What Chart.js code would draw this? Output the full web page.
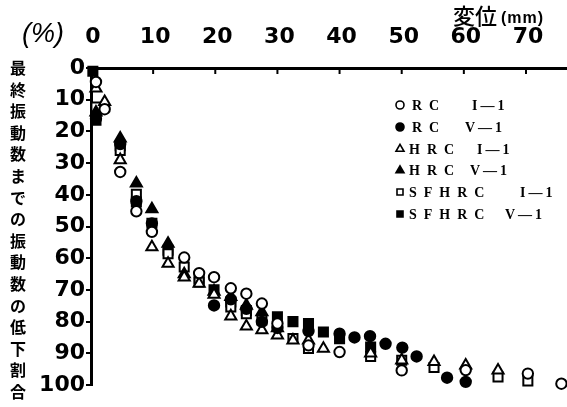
<!DOCTYPE html>
<html>
<head>
<meta charset="utf-8">
<script src="https://cdn.jsdelivr.net/npm/chart.js@4/dist/chart.umd.min.js"></script>
<style>
html, body { margin: 0; padding: 0; background: #fff; }
#wrap { width: 567px; height: 407px; }
</style>
</head>
<body>
<div id="wrap"><canvas id="chart" width="567" height="407"></canvas></div>
<script>
'use strict';

// Tick labels
const xTicks = [0, 10, 20, 30, 40, 50, 60, 70];
const yTicks = [0, 10, 20, 30, 40, 50, 60, 70, 80, 90, 100];

// Legend text
const seriesNames = ['RC', 'RC', 'HRC', 'HRC', 'SFHRC', 'SFHRC'];
const seriesCases = ['I—1', 'V—1', 'I—1', 'V—1', 'I—1', 'V—1'];

// Series values: displacement (mm) / reduction (%)
const rcI_x = [0.8, 2.2, 4.7, 7.3, 9.8, 15.0, 17.4, 19.8, 22.5, 25.0, 27.5, 30.0, 35.0, 40.0, 50.0, 60.3, 70.3, 75.7];
const rcI_y = [4.4, 13.0, 32.8, 45.2, 51.7, 59.8, 64.7, 66.0, 69.5, 71.2, 74.3, 80.6, 87.5, 89.6, 95.4, 95.3, 96.4, 99.6];

const rcV_x = [0.8, 4.7, 7.3, 9.8, 19.8, 22.5, 25.0, 27.5, 30.0, 35.0, 40.0, 42.4, 44.9, 47.4, 50.1, 52.4, 57.3, 60.3];
const rcV_y = [16.0, 24.0, 42.0, 49.0, 74.9, 73.0, 76.0, 80.1, 82.0, 83.0, 83.8, 85.0, 84.6, 87.0, 88.2, 91.0, 97.7, 99.0];

const hrcI_x = [0.8, 2.2, 4.7, 9.8, 12.4, 15.0, 17.4, 19.8, 22.5, 25.0, 27.5, 30.0, 32.5, 35.0, 37.4, 45.0, 50.0, 55.2, 60.3, 65.5];
const hrcI_y = [6.4, 10.7, 29.0, 56.5, 61.7, 66.0, 68.0, 71.5, 78.3, 81.5, 82.7, 84.3, 85.9, 85.9, 88.5, 90.0, 92.2, 92.7, 93.8, 95.4];

const hrcV_x = [0.8, 4.7, 7.3, 9.8, 12.4, 15.0, 19.8, 22.5, 25.0, 27.5, 30.0];
const hrcV_y = [14.0, 22.2, 36.4, 44.5, 55.4, 65.0, 70.5, 72.2, 74.9, 77.0, 82.0];

const sfI_x = [0.8, 4.7, 7.3, 12.4, 15.0, 17.4, 22.5, 25.0, 27.5, 32.5, 35.0, 45.0, 50.0, 55.2, 65.5, 70.3];
const sfI_y = [12.3, 26.0, 39.8, 58.6, 62.8, 67.5, 75.4, 77.5, 79.5, 85.3, 88.5, 91.0, 92.2, 94.5, 97.5, 98.7];

const sfV_x = [0.3, 0.8, 4.7, 7.3, 9.8, 12.4, 17.4, 19.8, 22.5, 25.0, 30.0, 32.5, 35.0, 37.4, 40.0, 45.0];
const sfV_y = [1.0, 16.5, 24.5, 42.3, 49.0, 57.5, 66.5, 70.0, 73.8, 76.5, 78.5, 80.0, 80.6, 83.3, 85.4, 88.0];

const toPoints = (xs, ys) => xs.map((x, i) => ({ x: x, y: ys[i] }));

// Marker styles per series
const markers = [
    { style: 'circle',   fill: '#fff', radius: 5.2 },
    { style: 'circle',   fill: '#000', radius: 5.2 },
    { style: 'triangle', fill: '#fff', radius: 6.4 },
    { style: 'triangle', fill: '#000', radius: 6.4 },
    { style: 'rect',     fill: '#fff', radius: 6.4 },
    { style: 'rect',     fill: '#000', radius: 6.4 }
];

const seriesData = [
    toPoints(rcI_x, rcI_y),
    toPoints(rcV_x, rcV_y),
    toPoints(hrcI_x, hrcI_y),
    toPoints(hrcV_x, hrcV_y),
    toPoints(sfI_x, sfI_y),
    toPoints(sfV_x, sfV_y)
];

const datasets = seriesData.map((pts, i) => ({
    label: seriesNames[i] + ' ' + seriesCases[i],
    data: pts,
    pointStyle: markers[i].style,
    pointRadius: markers[i].radius,
    pointBackgroundColor: markers[i].fill,
    pointBorderColor: '#000',
    pointBorderWidth: 2,
    showLine: false,
    clip: false
}));

const TICK_FONT = { family: 'DejaVu Sans', size: 22, weight: 'bold' };

// Draws a marker by hand (legend)
function drawMarker(ctx, style, fill, x, y, r) {
    ctx.save();
    ctx.beginPath();
    if (style === 'circle') {
        ctx.arc(x, y, r, 0, Math.PI * 2);
    } else if (style === 'triangle') {
        ctx.moveTo(x, y - r);
        ctx.lineTo(x + r * 0.866, y + r * 0.5);
        ctx.lineTo(x - r * 0.866, y + r * 0.5);
        ctx.closePath();
    } else {
        const s = r * 0.75;
        ctx.rect(x - s, y - s, 2 * s, 2 * s);
    }
    ctx.fillStyle = fill;
    ctx.fill();
    ctx.lineWidth = 1.6;
    ctx.strokeStyle = '#000';
    ctx.stroke();
    ctx.restore();
}

// Texts, inward x ticks and legend
const decorations = {
    id: 'decorations',
    afterDraw(chart) {
        const ctx = chart.ctx;
        const xs = chart.scales.x;
        const area = chart.chartArea;

        ctx.save();
        // inward ticks on top axis
        ctx.strokeStyle = '#000';
        ctx.lineWidth = 2;
        xTicks.forEach(v => {
            if (v === 0) return;
            const px = xs.getPixelForValue(v);
            ctx.beginPath();
            ctx.moveTo(px, area.top);
            ctx.lineTo(px, area.top + 6);
            ctx.stroke();
        });

        ctx.fillStyle = '#000';
        ctx.textBaseline = 'middle';

        // (%)
        ctx.textAlign = 'center';
        ctx.font = 'italic 27px "Liberation Sans"';
        ctx.fillText('(%)', 43, 34);

        // 変位 (mm)
        ctx.textAlign = 'left';
        ctx.font = '500 22px "Noto Sans CJK JP"';
        ctx.fillText('変位', 453, 16);
        ctx.font = 'bold 16px "Liberation Sans"';
        ctx.letterSpacing = '1px';
        ctx.fillText('(mm)', 501, 19);
        ctx.letterSpacing = '0px';

        // vertical y-axis title
        const yTitle = '最終振動数までの振動数の低下割合';
        ctx.textAlign = 'center';
        ctx.font = 'bold 16px "Noto Sans CJK JP"';
        Array.from(yTitle).forEach((ch, i) => {
            ctx.fillText(ch, 18, 68 + i * 21.6);
        });

        // legend
        const rowY = [105, 127, 149, 170.5, 192, 214];
        const nameX = [412, 412, 409, 409, 409, 409];
        const caseX = [472, 465, 477, 470, 520, 505];
        ctx.textAlign = 'left';
        ctx.font = 'bold 14px "Liberation Serif"';
        seriesNames.forEach((name, i) => {
            const m = markers[i];
            drawMarker(ctx, m.style, m.fill, 400, rowY[i], m.style === 'triangle' ? 4.6 : 4);
            ctx.fillStyle = '#000';
            ctx.letterSpacing = '7px';
            ctx.fillText(name, nameX[i], rowY[i] + 1);
            ctx.letterSpacing = '3px';
            ctx.fillText(seriesCases[i], caseX[i], rowY[i] + 1);
        });
        ctx.letterSpacing = '0px';
        ctx.restore();
    }
};

new Chart(document.getElementById('chart'), {
    type: 'scatter',
    data: { datasets: datasets },
    plugins: [decorations],
    options: {
        responsive: false,
        animation: false,
        devicePixelRatio: 1,
        layout: {
            autoPadding: false,
            padding: { left: 0, top: 0, right: 0, bottom: 22 }
        },
        plugins: {
            legend: { display: false },
            tooltip: { enabled: false }
        },
        scales: {
            x: {
                type: 'linear',
                position: 'top',
                min: 0,
                max: 76.6,
                afterBuildTicks: (scale) => { scale.ticks = xTicks.map(v => ({ value: v })); },
                afterFit: (scale) => {
                    scale.height = 68;
                    scale.paddingLeft = 0;
                    scale.paddingRight = 0;
                },
                grid: { display: false },
                border: { display: true, color: '#000', width: 3 },
                ticks: {
                    color: '#000',
                    font: TICK_FONT,
                    padding: 10,
                    labelOffset: 2,
                    maxRotation: 0,
                    autoSkip: false
                }
            },
            y: {
                type: 'linear',
                reverse: true,
                min: 0,
                max: 100,
                afterBuildTicks: (scale) => { scale.ticks = yTicks.map(v => ({ value: v })); },
                afterFit: (scale) => {
                    scale.width = 91;
                    scale.paddingTop = 0;
                    scale.paddingBottom = 0;
                },
                grid: {
                    display: true,
                    drawOnChartArea: false,
                    drawTicks: true,
                    tickLength: 5,
                    color: '#000',
                    lineWidth: 2
                },
                border: { display: true, color: '#000', width: 3 },
                ticks: {
                    color: '#000',
                    font: TICK_FONT,
                    padding: 1,
                    autoSkip: false
                }
            }
        }
    }
});
</script>
</body>
</html>
